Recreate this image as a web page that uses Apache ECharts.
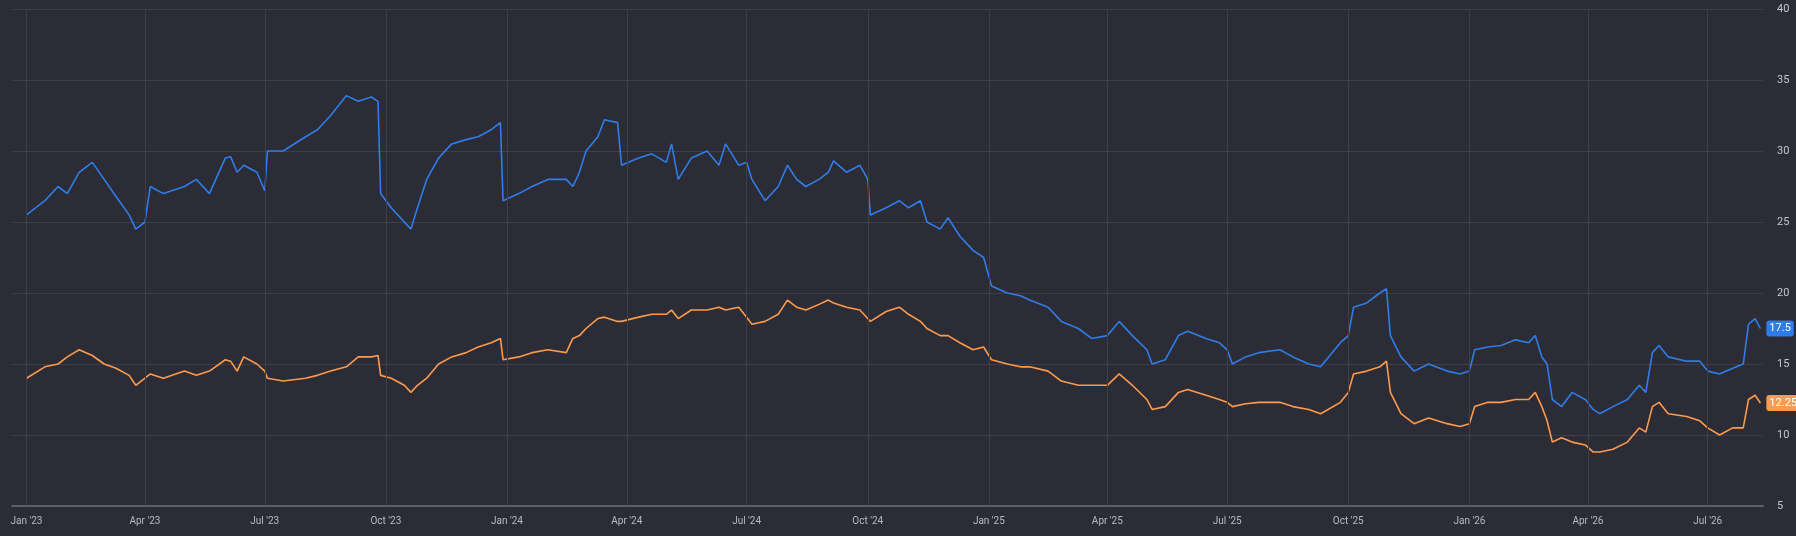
<!DOCTYPE html>
<html><head><meta charset="utf-8">
<script src="https://cdn.jsdelivr.net/npm/echarts@6/dist/echarts.min.js"></script>
<style>html,body{margin:0;background:#2b2c36}#c{width:1796px;height:536px}</style>
</head><body><div id="c"></div>
<script>
const dates = ["2023-01-01","2023-01-15","2023-01-25","2023-02-01","2023-02-10","2023-02-20","2023-03-01","2023-03-10","2023-03-20","2023-03-25","2023-04-01","2023-04-05","2023-04-15","2023-05-01","2023-05-10","2023-05-20","2023-06-01","2023-06-05","2023-06-10","2023-06-15","2023-06-25","2023-07-01","2023-07-03","2023-07-15","2023-08-01","2023-08-10","2023-08-20","2023-09-01","2023-09-10","2023-09-20","2023-09-25","2023-09-27","2023-10-05","2023-10-15","2023-10-20","2023-10-25","2023-11-01","2023-11-10","2023-11-20","2023-12-01","2023-12-10","2023-12-20","2023-12-27","2023-12-29",
"2024-01-10","2024-01-20","2024-02-01","2024-02-15","2024-02-20","2024-02-25","2024-03-01","2024-03-10","2024-03-15","2024-03-25","2024-03-28","2024-04-10","2024-04-20","2024-05-01","2024-05-05","2024-05-10","2024-05-20","2024-06-01","2024-06-10","2024-06-15","2024-06-25","2024-07-01","2024-07-05","2024-07-15","2024-07-25","2024-08-01","2024-08-08","2024-08-15","2024-08-25","2024-09-01","2024-09-05","2024-09-15","2024-09-25","2024-10-01","2024-10-03","2024-10-15","2024-10-25","2024-11-01","2024-11-10","2024-11-15","2024-11-25","2024-12-01","2024-12-10","2024-12-20","2024-12-28",
"2025-01-03","2025-01-15","2025-01-25","2025-02-01","2025-02-15","2025-02-25","2025-03-10","2025-03-20","2025-04-01","2025-04-10","2025-04-20","2025-05-01","2025-05-05","2025-05-15","2025-05-25","2025-06-01","2025-06-15","2025-06-25","2025-07-01","2025-07-05","2025-07-15","2025-07-25","2025-08-10","2025-08-20","2025-09-01","2025-09-10","2025-09-25","2025-10-01","2025-10-05","2025-10-15","2025-10-25","2025-10-30","2025-11-02","2025-11-10","2025-11-20","2025-12-01","2025-12-15","2025-12-25",
"2026-01-01","2026-01-05","2026-01-15","2026-01-25","2026-02-05","2026-02-15","2026-02-20","2026-02-25","2026-03-01","2026-03-05","2026-03-12","2026-03-20","2026-03-30","2026-04-05","2026-04-10","2026-04-20","2026-05-01","2026-05-10","2026-05-15","2026-05-20","2026-05-25","2026-06-01","2026-06-15","2026-06-25","2026-07-01","2026-07-10","2026-07-20","2026-07-28","2026-08-01","2026-08-06","2026-08-10"];
const blueValues = [25.5,26.5,27.5,27,28.5,29.2,28,26.8,25.5,24.5,25,27.5,27,27.5,28,27,29.5,29.6,28.5,29,28.5,27.2,30,30,31,31.5,32.5,33.9,33.5,33.8,33.5,27,26,25,24.5,26,28,29.5,30.5,30.8,31,31.5,32,26.5,
27,27.5,28,28,27.5,28.5,30,31,32.2,32,29,29.5,29.8,29.2,30.5,28,29.5,30,29,30.5,29,29.2,28,26.5,27.5,29,28,27.5,28,28.5,29.3,28.5,29,28,25.5,26,26.5,26,26.5,25,24.5,25.3,24,23,22.5,
20.5,20,19.8,19.5,19,18,17.5,16.8,17,18,17,16,15,15.3,17,17.3,16.8,16.5,16,15,15.5,15.8,16,15.5,15,14.8,16.5,17,19,19.3,20,20.3,17,15.5,14.5,15,14.5,14.3,
14.5,16,16.2,16.3,16.7,16.5,17,15.5,15,12.5,12,13,12.5,11.8,11.5,12,12.5,13.5,13,15.8,16.3,15.5,15.2,15.2,14.5,14.3,14.7,15,17.8,18.2,17.5];
const orangeValues = [14,14.8,15,15.5,16,15.6,15,14.7,14.2,13.5,14,14.3,14,14.5,14.2,14.5,15.3,15.2,14.5,15.5,15,14.5,14,13.8,14,14.2,14.5,14.8,15.5,15.5,15.6,14.2,14,13.5,13,13.5,14,15,15.5,15.8,16.2,16.5,16.8,15.3,
15.5,15.8,16,15.8,16.8,17,17.5,18.2,18.3,18,18,18.3,18.5,18.5,18.8,18.2,18.8,18.8,19,18.8,19,18.3,17.8,18,18.5,19.5,19,18.8,19.2,19.5,19.3,19,18.8,18.2,18,18.7,19,18.5,18,17.5,17,17,16.5,16,16.2,
15.3,15,14.8,14.8,14.5,13.8,13.5,13.5,13.5,14.3,13.5,12.5,11.8,12,13,13.2,12.8,12.5,12.3,12,12.2,12.3,12.3,12,11.8,11.5,12.3,13,14.3,14.5,14.8,15.2,13,11.5,10.8,11.2,10.8,10.6,
10.8,12,12.3,12.3,12.5,12.5,13,12,11,9.5,9.8,9.5,9.3,8.8,8.8,9,9.5,10.5,10.2,12,12.3,11.5,11.3,11,10.5,10,10.5,10.5,12.5,12.8,12.25];
const quarterTicks = ["2023-01-01","2023-04-01","2023-07-01","2023-10-01","2024-01-01","2024-04-01","2024-07-01","2024-10-01","2025-01-01","2025-04-01","2025-07-01","2025-10-01","2026-01-01","2026-04-01","2026-07-01"];
const yTicks = [5,10,15,20,25,30,35,40];

const mon = ["Jan","Feb","Mar","Apr","May","Jun","Jul","Aug","Sep","Oct","Nov","Dec"];
function qLabel(s){const d=new Date(s+"T00:00:00Z");return mon[d.getUTCMonth()]+" '"+String(d.getUTCFullYear()).slice(2);}
const ch = echarts.init(document.getElementById('c'));
function endLab(color){return {show:true,distance:6,formatter:p=>String(p.value[1]),color:'#fff',backgroundColor:color,borderRadius:3,padding:[3,3,2,3],fontSize:11,fontFamily:'Roboto'};}
ch.setOption({
  backgroundColor:'#2b2c36',
  animation:false,
  grid:{left:12,right:33,top:9,bottom:30},
  xAxis:{type:'time',min:+new Date('2022-12-21'),max:+new Date('2026-08-12'),
    axisLine:{show:true,lineStyle:{color:'#5d5e66',width:2}},axisTick:{show:false},axisLabel:{show:false},splitLine:{show:false}},
  yAxis:{type:'value',position:'right',min:yTicks[0],max:yTicks[yTicks.length-1],interval:5,
    axisLine:{show:false},axisTick:{show:false},
    axisLabel:{color:'#c4c6cc',fontSize:11,margin:14,fontFamily:'Roboto'},
    splitLine:{lineStyle:{color:'#3d3e49',width:1}}},
  series:[
    {type:'line',name:'blue',data:dates.map((d,i)=>[d,blueValues[i]]),showSymbol:false,
      lineStyle:{color:'#2f7de8',width:1.6},itemStyle:{color:'#2f7de8'},endLabel:endLab('#2f7de8'),
      markLine:{silent:true,symbol:'none',lineStyle:{color:'#3d3e49',width:1,type:'solid'},
        label:{position:'start',distance:10,color:'#b8bac2',fontSize:10,fontFamily:'Roboto',formatter:p=>qLabel(p.data.tick)},
        data:quarterTicks.map(t=>({xAxis:+new Date(t+'T00:00:00Z'),tick:t}))}},
    {type:'line',name:'orange',data:dates.map((d,i)=>[d,orangeValues[i]]),showSymbol:false,
      lineStyle:{color:'#fd9a4c',width:1.6},itemStyle:{color:'#fd9a4c'},endLabel:endLab('#fd9a4c')}
  ]
});
</script></body></html>
